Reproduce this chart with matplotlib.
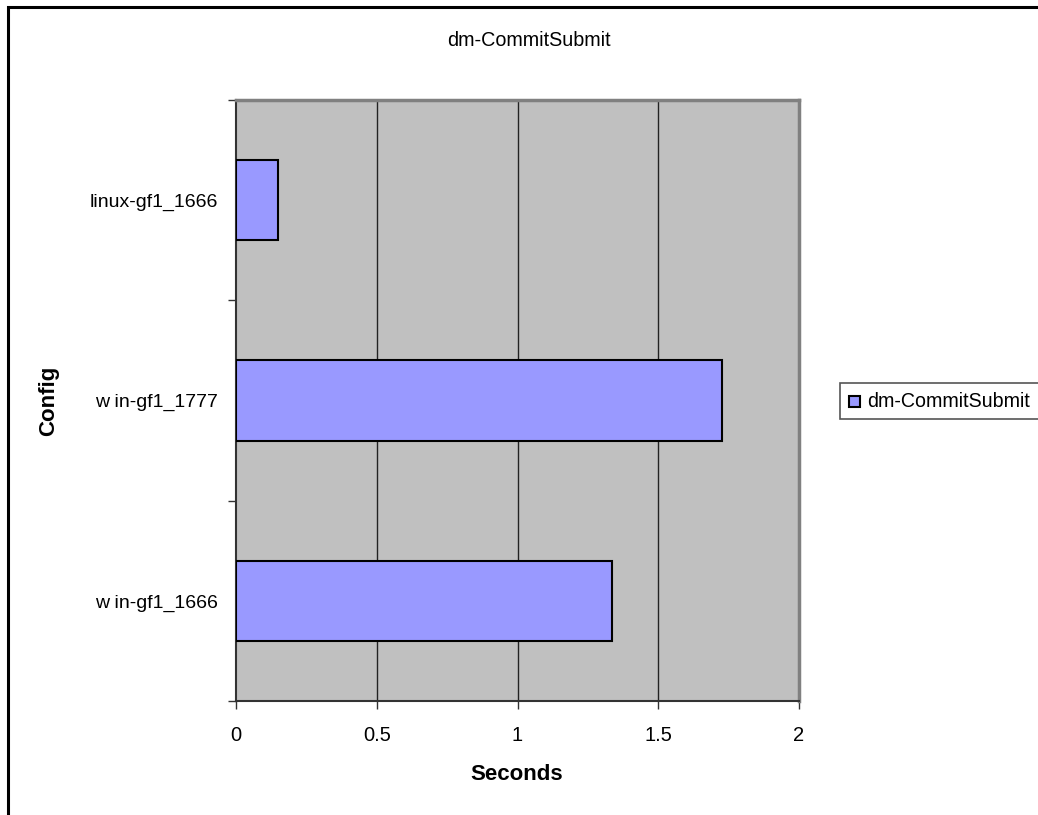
import matplotlib
matplotlib.use("Agg")
import matplotlib.pyplot as plt
from matplotlib.patches import Rectangle
from matplotlib.ticker import FixedLocator

categories = ["w in-gf1_1666", "w in-gf1_1777", "linux-gf1_1666"]
values = [1.336, 1.727, 0.149]
series_name = "dm-CommitSubmit"
title = "dm-CommitSubmit"
xticks = [0, 0.5, 1, 1.5, 2]
xtick_labels = ["0", "0.5", "1", "1.5", "2"]

plt.rcParams['font.family'] = ['Liberation Sans', 'DejaVu Sans']

W, H = 1038, 815
fig = plt.figure(figsize=(W / 100, H / 100), dpi=100)

def fx(px):
    return px / W

def fy(py):
    return 1 - py / H

left, right, top, bottom = 236, 799, 100, 701
ax = fig.add_axes([fx(left), fy(bottom), fx(right - left), fy(top) - fy(bottom)])
ax.set_facecolor("#C0C0C0")

ypos = list(range(len(categories)))
ax.barh(ypos, values, height=0.4, color="#9999FF", edgecolor="black", linewidth=1.5, zorder=3)

ax.set_xlim(0, 2)
ax.set_ylim(-0.5, len(categories) - 0.5)
ax.set_xticks(xticks)
ax.set_xticklabels(xtick_labels, fontsize=14.5)
ax.set_yticks(ypos)
ax.set_yticklabels(categories, fontsize=14)
ax.yaxis.set_minor_locator(FixedLocator([i - 0.5 for i in range(len(categories) + 1)]))
ax.tick_params(axis='y', which='major', length=0, pad=13)
ax.tick_params(axis='y', which='minor', length=6, width=1, color='#333333')
ax.tick_params(axis='x', which='major', length=6, width=1, color='#333333', pad=12)

for x in xticks[1:-1]:
    ax.axvline(x, color="#222222", linewidth=1, zorder=1)

for s in ['left', 'bottom']:
    ax.spines[s].set_color('#333333')
    ax.spines[s].set_linewidth(1.5)
for s in ['top', 'right']:
    ax.spines[s].set_color('#808080')
    ax.spines[s].set_linewidth(2.5)

fig.text(fx(529), fy(41), title, ha='center', va='center', fontsize=14.2)
fig.text(fx(517), fy(774), "Seconds", ha='center', va='center', fontsize=16, fontweight='bold')
fig.text(fx(49), fy(401), "Config", ha='center', va='center', fontsize=16, fontweight='bold', rotation=90)

# legend box
fig.patches.append(Rectangle((fx(840), fy(419)), fx(220), fy(383) - fy(419), transform=fig.transFigure,
                             facecolor='white', edgecolor='#555555', linewidth=1.2))
fig.patches.append(Rectangle((fx(849), fy(407)), fx(11), fy(396) - fy(407), transform=fig.transFigure,
                             facecolor='#9999FF', edgecolor='black', linewidth=1.5))
fig.text(fx(867), fy(401), series_name, ha='left', va='center', fontsize=14.1)

# figure border (left and top visible)
fig.patches.append(Rectangle((fx(7.5), fy(900)), fx(1200), fy(7) - fy(900), transform=fig.transFigure,
                             facecolor='none', edgecolor='black', linewidth=2.2))

fig.savefig("out.png", dpi=100)
